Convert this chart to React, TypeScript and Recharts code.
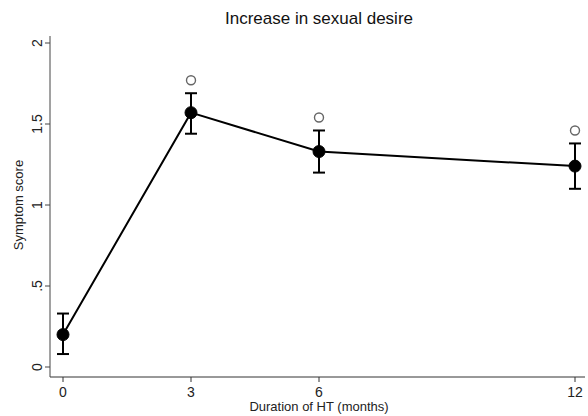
import React from "react";
import { ComposedChart, Line, Scatter, ErrorBar, XAxis, YAxis } from "recharts";

document.body.style.margin = "0";

const months = [0, 3, 6, 12];
const meanScore = [0.2, 1.57, 1.33, 1.24];
const lowerCI = [0.08, 1.44, 1.2, 1.1];
const upperCI = [0.33, 1.69, 1.46, 1.38];
const markerScore = [null, 1.77, 1.54, 1.46];
const xTicks = [0, 3, 6, 12];
const yTicks = [0, 0.5, 1, 1.5, 2];

const data = months.map((m, i) => ({
  month: m,
  score: meanScore[i],
  err: [meanScore[i] - lowerCI[i], upperCI[i] - meanScore[i]],
}));

const markers = months
  .map((m, i) => ({ month: m, sig: markerScore[i] }))
  .filter((d) => d.sig !== null);

const font = "'Liberation Sans', Arial, sans-serif";

const fmtY = (v: number) => (v === 0.5 ? ".5" : v === 1.5 ? "1.5" : String(v));

function YTick(props: any) {
  const { x, y, payload } = props;
  const tx = x - 1;
  return (
    <text
      x={tx}
      y={y}
      transform={`rotate(-90, ${tx}, ${y})`}
      textAnchor="middle"
      fontSize={14}
      fill="#222"
      fontFamily={font}
    >
      {fmtY(payload.value)}
    </text>
  );
}

function OpenCircle(props: any) {
  const { cx, cy } = props;
  if (cx == null || cy == null) return <g />;
  return <circle cx={cx} cy={cy} r={4.5} fill="none" stroke="#666" strokeWidth={1.4} />;
}

export default function App() {
  return (
    <div style={{ width: 588, height: 416, background: "#fff", position: "relative", fontFamily: font }}>
      <div
        style={{
          position: "absolute",
          top: 9,
          left: 50,
          width: 538,
          textAlign: "center",
          fontSize: 17,
          color: "#111",
        }}
      >
        Increase in sexual desire
      </div>
      <div
        style={{
          position: "absolute",
          top: 399,
          left: 50,
          width: 538,
          textAlign: "center",
          fontSize: 13,
          color: "#222",
        }}
      >
        Duration of HT (months)
      </div>
      <div
        style={{
          position: "absolute",
          left: 18,
          top: 205,
          transform: "translate(-50%, -50%) rotate(-90deg)",
          fontSize: 13,
          color: "#222",
          whiteSpace: "nowrap",
        }}
      >
        Symptom score
      </div>
      <ComposedChart
        width={588}
        height={416}
        data={data}
        margin={{ top: 36, right: 3, bottom: 0, left: 0 }}
        style={{ position: "absolute", top: 0, left: 0 }}
      >
        <XAxis
          dataKey="month"
          type="number"
          domain={[0, 12]}
          ticks={xTicks}
          padding={{ left: 13, right: 10 }}
          height={39}
          tickSize={5}
          tickMargin={5}
          stroke="#333"
          tick={{ fontSize: 14, fill: "#222", fontFamily: font }}
        />
        <YAxis
          type="number"
          domain={[0, 2]}
          ticks={yTicks}
          width={50}
          padding={{ top: 7, bottom: 10 }}
          tickSize={5}
          tickMargin={2}
          stroke="#444"
          tick={<YTick />}
        />
        <Line
          dataKey="score"
          stroke="#000"
          strokeWidth={2}
          dot={{ r: 6, fill: "#000", stroke: "#000", strokeWidth: 1 }}
          isAnimationActive={false}
        >
          <ErrorBar dataKey="err" width={6} stroke="#000" strokeWidth={2} direction="y" />
        </Line>
        <Scatter data={markers} dataKey="sig" shape={<OpenCircle />} isAnimationActive={false} />
      </ComposedChart>
    </div>
  );
}
